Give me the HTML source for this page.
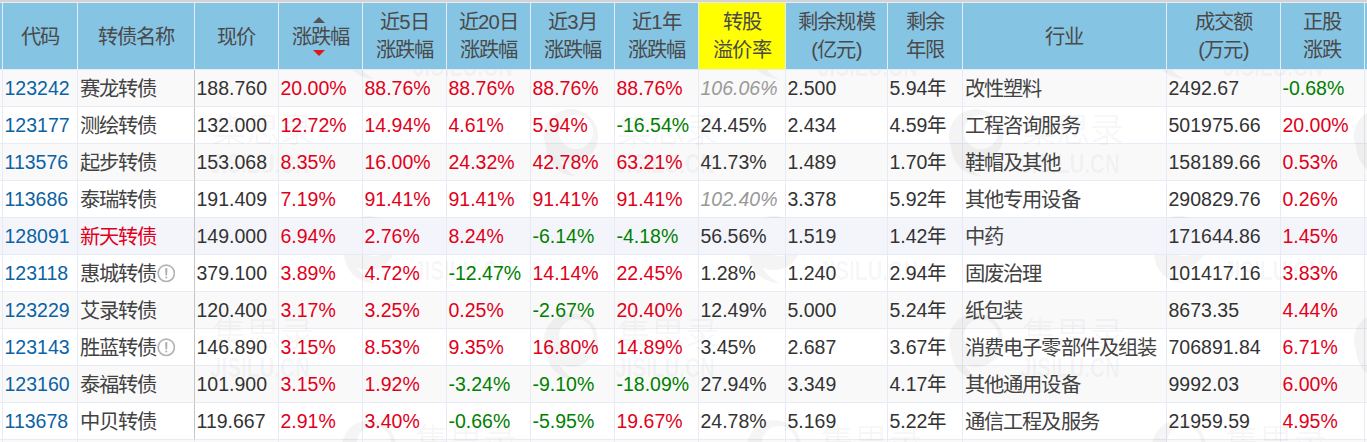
<!DOCTYPE html>
<html lang="zh-CN">
<head>
<meta charset="utf-8">
<title>可转债</title>
<style>
html,body{margin:0;padding:0;}
body{width:1367px;height:442px;overflow:hidden;background:#d3d3d3;font-family:"Liberation Sans",sans-serif;font-size:19.5px;color:#333;position:relative;}
table{position:absolute;left:0;top:2px;border-collapse:separate;border-spacing:0;table-layout:fixed;width:1380px;}
th,td{box-sizing:border-box;border-right:1px solid #e6ebf5;border-bottom:1px solid #e6ebf5;padding:0 1.5px;overflow:hidden;white-space:nowrap;}
th{font-size:20.3px;letter-spacing:-0.8px;height:68px;border-top:1px solid #e6ebf5;background:#86c4e4;font-weight:normal;text-align:center;line-height:26.5px;padding-top:2px;color:#4a4a4a;position:relative;}
th.y{background:#ffff00;}
th.t2{line-height:28px;padding-top:0.5px;}
td{height:37px;line-height:36px;text-align:left;background:#f9f9f9;}
tr:nth-child(even) td{background:#fff;}
tr.hv td{background:#f4f5fa;position:relative;z-index:3;}
td.nm{border-right-color:#c6c6c6;}
td.c{font-size:20.3px;letter-spacing:-0.8px;color:#424242;padding-top:2px;line-height:34px;}
a{color:#0b62a4;text-decoration:none;}
.r{color:#e1001a;}
.g{color:#008000;}
.i{color:#999;font-style:italic;}
.up,.dn{position:absolute;left:50%;margin-left:-7.5px;width:0;height:0;border-left:6px solid transparent;border-right:6px solid transparent;}
.up{top:14px;border-bottom:6px solid #555;}
.dn{top:47px;border-top:6px solid #dc1a1a;}
.ic{display:inline-block;width:18.6px;height:18.6px;vertical-align:-2px;margin-left:0.2px;}
.wm{position:absolute;left:195px;top:70px;width:1172px;height:372px;overflow:hidden;pointer-events:none;color:rgba(0,0,0,0.04);z-index:2;}
.wm div{position:absolute;width:180px;height:70px;}
.wm svg{position:absolute;left:0;top:0;width:56px;height:70px;}
.wm b{position:absolute;left:74px;top:6px;font-size:34px;line-height:34px;font-weight:normal;white-space:nowrap;}
.wm i{position:absolute;left:72px;top:43px;font-size:27px;line-height:28px;font-style:normal;font-weight:bold;white-space:nowrap;transform:scaleX(0.766);transform-origin:0 0;}
.wm b:before{content:"集思录";}
.wm i:before{content:"JISILU.CN";}
</style>
</head>
<body>
<table>
<colgroup>
<col style="width:3px"><col style="width:75px"><col style="width:117px"><col style="width:84px"><col style="width:84px"><col style="width:84px"><col style="width:84px"><col style="width:84px"><col style="width:84px"><col style="width:87px"><col style="width:102px"><col style="width:75px"><col style="width:204px"><col style="width:114px"><col style="width:84px"><col style="width:15px">
</colgroup>
<thead>
<tr>
<th class="e"></th>
<th>代码</th>
<th>转债名称</th>
<th>现价</th>
<th><span class="up"></span>涨跌幅<span class="dn"></span></th>
<th class="t2">近5日<br>涨跌幅</th>
<th class="t2">近20日<br>涨跌幅</th>
<th class="t2">近3月<br>涨跌幅</th>
<th class="t2">近1年<br>涨跌幅</th>
<th class="y t2">转股<br>溢价率</th>
<th class="t2">剩余规模<br>(亿元)</th>
<th class="t2">剩余<br>年限</th>
<th>行业</th>
<th class="t2">成交额<br>(万元)</th>
<th class="t2">正股<br>涨跌</th>
<th class="e"></th>
</tr>
</thead>
<tbody>
<tr>
<td class="e"></td>
<td><a>123242</a></td>
<td class="nm c"><span>赛龙转债</span></td>
<td>188.760</td>
<td class="r">20.00%</td>
<td class="r">88.76%</td>
<td class="r">88.76%</td>
<td class="r">88.76%</td>
<td class="r">88.76%</td>
<td class="i">106.06%</td>
<td>2.500</td>
<td>5.94年</td>
<td class="c">改性塑料</td>
<td>2492.67</td>
<td class="g">-0.68%</td>
<td class="e"></td>
</tr>
<tr>
<td class="e"></td>
<td><a>123177</a></td>
<td class="nm c"><span>测绘转债</span></td>
<td>132.000</td>
<td class="r">12.72%</td>
<td class="r">14.94%</td>
<td class="r">4.61%</td>
<td class="r">5.94%</td>
<td class="g">-16.54%</td>
<td>24.45%</td>
<td>2.434</td>
<td>4.59年</td>
<td class="c">工程咨询服务</td>
<td>501975.66</td>
<td class="r">20.00%</td>
<td class="e"></td>
</tr>
<tr>
<td class="e"></td>
<td><a>113576</a></td>
<td class="nm c"><span>起步转债</span></td>
<td>153.068</td>
<td class="r">8.35%</td>
<td class="r">16.00%</td>
<td class="r">24.32%</td>
<td class="r">42.78%</td>
<td class="r">63.21%</td>
<td>41.73%</td>
<td>1.489</td>
<td>1.70年</td>
<td class="c">鞋帽及其他</td>
<td>158189.66</td>
<td class="r">0.53%</td>
<td class="e"></td>
</tr>
<tr>
<td class="e"></td>
<td><a>113686</a></td>
<td class="nm c"><span>泰瑞转债</span></td>
<td>191.409</td>
<td class="r">7.19%</td>
<td class="r">91.41%</td>
<td class="r">91.41%</td>
<td class="r">91.41%</td>
<td class="r">91.41%</td>
<td class="i">102.40%</td>
<td>3.378</td>
<td>5.92年</td>
<td class="c">其他专用设备</td>
<td>290829.76</td>
<td class="r">0.26%</td>
<td class="e"></td>
</tr>
<tr class="hv">
<td class="e"></td>
<td><a>128091</a></td>
<td class="nm c"><span class="r">新天转债</span></td>
<td>149.000</td>
<td class="r">6.94%</td>
<td class="r">2.76%</td>
<td class="r">8.24%</td>
<td class="g">-6.14%</td>
<td class="g">-4.18%</td>
<td>56.56%</td>
<td>1.519</td>
<td>1.42年</td>
<td class="c">中药</td>
<td>171644.86</td>
<td class="r">1.45%</td>
<td class="e"></td>
</tr>
<tr>
<td class="e"></td>
<td><a>123118</a></td>
<td class="nm c"><span>惠城转债</span><svg class="ic" viewBox="0 0 18 18"><circle cx="9" cy="9" r="7.9" fill="none" stroke="#b3b3b3" stroke-width="1.6"/><path d="M7.9 4h2.2l-0.35 7.1h-1.5z" fill="#b0aaa0"/><rect x="8.15" y="12.3" width="1.7" height="1.6" fill="#b0aaa0"/></svg></td>
<td>379.100</td>
<td class="r">3.89%</td>
<td class="r">4.72%</td>
<td class="g">-12.47%</td>
<td class="r">14.14%</td>
<td class="r">22.45%</td>
<td>1.28%</td>
<td>1.240</td>
<td>2.94年</td>
<td class="c">固废治理</td>
<td>101417.16</td>
<td class="r">3.83%</td>
<td class="e"></td>
</tr>
<tr>
<td class="e"></td>
<td><a>123229</a></td>
<td class="nm c"><span>艾录转债</span></td>
<td>120.400</td>
<td class="r">3.17%</td>
<td class="r">3.25%</td>
<td class="r">0.25%</td>
<td class="g">-2.67%</td>
<td class="r">20.40%</td>
<td>12.49%</td>
<td>5.000</td>
<td>5.24年</td>
<td class="c">纸包装</td>
<td>8673.35</td>
<td class="r">4.44%</td>
<td class="e"></td>
</tr>
<tr>
<td class="e"></td>
<td><a>123143</a></td>
<td class="nm c"><span>胜蓝转债</span><svg class="ic" viewBox="0 0 18 18"><circle cx="9" cy="9" r="7.9" fill="none" stroke="#b3b3b3" stroke-width="1.6"/><path d="M7.9 4h2.2l-0.35 7.1h-1.5z" fill="#b0aaa0"/><rect x="8.15" y="12.3" width="1.7" height="1.6" fill="#b0aaa0"/></svg></td>
<td>146.890</td>
<td class="r">3.15%</td>
<td class="r">8.53%</td>
<td class="r">9.35%</td>
<td class="r">16.80%</td>
<td class="r">14.89%</td>
<td>3.45%</td>
<td>2.687</td>
<td>3.67年</td>
<td class="c">消费电子零部件及组装</td>
<td>706891.84</td>
<td class="r">6.71%</td>
<td class="e"></td>
</tr>
<tr>
<td class="e"></td>
<td><a>123160</a></td>
<td class="nm c"><span>泰福转债</span></td>
<td>101.900</td>
<td class="r">3.15%</td>
<td class="r">1.92%</td>
<td class="g">-3.24%</td>
<td class="g">-9.10%</td>
<td class="g">-18.09%</td>
<td>27.94%</td>
<td>3.349</td>
<td>4.17年</td>
<td class="c">其他通用设备</td>
<td>9992.03</td>
<td class="r">6.00%</td>
<td class="e"></td>
</tr>
<tr>
<td class="e"></td>
<td><a>113678</a></td>
<td class="nm c"><span>中贝转债</span></td>
<td>119.667</td>
<td class="r">2.91%</td>
<td class="r">3.40%</td>
<td class="g">-0.66%</td>
<td class="g">-5.95%</td>
<td class="r">19.67%</td>
<td>24.78%</td>
<td>5.169</td>
<td>5.22年</td>
<td class="c">通信工程及服务</td>
<td>21959.59</td>
<td class="r">4.95%</td>
<td class="e"></td>
</tr>
<tr>
<td class="e"></td>
<td class="e"></td>
<td class="e"></td>
<td class="e"></td>
<td class="e"></td>
<td class="e"></td>
<td class="e"></td>
<td class="e"></td>
<td class="e"></td>
<td class="e"></td>
<td class="e"></td>
<td class="e"></td>
<td class="e"></td>
<td class="e"></td>
<td class="e"></td>
<td class="e"></td>
</tr>
</tbody>
</table>
<div class="wm">
<div style="left:-57px;top:37px"><svg viewBox="0 0 56 70"><g opacity="0.04" fill="#000"><path fill-rule="evenodd" d="M28 2a27 27 0 1 0 0.01 0zM33 8a17 17 0 1 1-0.01 0z"/><path d="M3 40c2 17 12 28 30 29c-10-5-17-13-20-24z"/></g></svg><b></b><i></i></div>
<div style="left:-57px;top:241px"><svg viewBox="0 0 56 70"><g opacity="0.04" fill="#000"><path fill-rule="evenodd" d="M28 2a27 27 0 1 0 0.01 0zM33 8a17 17 0 1 1-0.01 0z"/><path d="M3 40c2 17 12 28 30 29c-10-5-17-13-20-24z"/></g></svg><b></b><i></i></div>
<div style="left:348px;top:37px"><svg viewBox="0 0 56 70"><g opacity="0.04" fill="#000"><path fill-rule="evenodd" d="M28 2a27 27 0 1 0 0.01 0zM33 8a17 17 0 1 1-0.01 0z"/><path d="M3 40c2 17 12 28 30 29c-10-5-17-13-20-24z"/></g></svg><b></b><i></i></div>
<div style="left:348px;top:241px"><svg viewBox="0 0 56 70"><g opacity="0.04" fill="#000"><path fill-rule="evenodd" d="M28 2a27 27 0 1 0 0.01 0zM33 8a17 17 0 1 1-0.01 0z"/><path d="M3 40c2 17 12 28 30 29c-10-5-17-13-20-24z"/></g></svg><b></b><i></i></div>
<div style="left:753px;top:37px"><svg viewBox="0 0 56 70"><g opacity="0.04" fill="#000"><path fill-rule="evenodd" d="M28 2a27 27 0 1 0 0.01 0zM33 8a17 17 0 1 1-0.01 0z"/><path d="M3 40c2 17 12 28 30 29c-10-5-17-13-20-24z"/></g></svg><b></b><i></i></div>
<div style="left:753px;top:241px"><svg viewBox="0 0 56 70"><g opacity="0.04" fill="#000"><path fill-rule="evenodd" d="M28 2a27 27 0 1 0 0.01 0zM33 8a17 17 0 1 1-0.01 0z"/><path d="M3 40c2 17 12 28 30 29c-10-5-17-13-20-24z"/></g></svg><b></b><i></i></div>
<div style="left:1158px;top:37px"><svg viewBox="0 0 56 70"><g opacity="0.04" fill="#000"><path fill-rule="evenodd" d="M28 2a27 27 0 1 0 0.01 0zM33 8a17 17 0 1 1-0.01 0z"/><path d="M3 40c2 17 12 28 30 29c-10-5-17-13-20-24z"/></g></svg><b></b><i></i></div>
<div style="left:1158px;top:241px"><svg viewBox="0 0 56 70"><g opacity="0.04" fill="#000"><path fill-rule="evenodd" d="M28 2a27 27 0 1 0 0.01 0zM33 8a17 17 0 1 1-0.01 0z"/><path d="M3 40c2 17 12 28 30 29c-10-5-17-13-20-24z"/></g></svg><b></b><i></i></div>
<div style="left:146px;top:-60px"><svg viewBox="0 0 56 70"><g opacity="0.04" fill="#000"><path fill-rule="evenodd" d="M28 2a27 27 0 1 0 0.01 0zM33 8a17 17 0 1 1-0.01 0z"/><path d="M3 40c2 17 12 28 30 29c-10-5-17-13-20-24z"/></g></svg><b></b><i></i></div>
<div style="left:146px;top:144px"><svg viewBox="0 0 56 70"><g opacity="0.04" fill="#000"><path fill-rule="evenodd" d="M28 2a27 27 0 1 0 0.01 0zM33 8a17 17 0 1 1-0.01 0z"/><path d="M3 40c2 17 12 28 30 29c-10-5-17-13-20-24z"/></g></svg><b></b><i></i></div>
<div style="left:146px;top:348px"><svg viewBox="0 0 56 70"><g opacity="0.04" fill="#000"><path fill-rule="evenodd" d="M28 2a27 27 0 1 0 0.01 0zM33 8a17 17 0 1 1-0.01 0z"/><path d="M3 40c2 17 12 28 30 29c-10-5-17-13-20-24z"/></g></svg><b></b><i></i></div>
<div style="left:551px;top:-60px"><svg viewBox="0 0 56 70"><g opacity="0.04" fill="#000"><path fill-rule="evenodd" d="M28 2a27 27 0 1 0 0.01 0zM33 8a17 17 0 1 1-0.01 0z"/><path d="M3 40c2 17 12 28 30 29c-10-5-17-13-20-24z"/></g></svg><b></b><i></i></div>
<div style="left:551px;top:144px"><svg viewBox="0 0 56 70"><g opacity="0.04" fill="#000"><path fill-rule="evenodd" d="M28 2a27 27 0 1 0 0.01 0zM33 8a17 17 0 1 1-0.01 0z"/><path d="M3 40c2 17 12 28 30 29c-10-5-17-13-20-24z"/></g></svg><b></b><i></i></div>
<div style="left:551px;top:348px"><svg viewBox="0 0 56 70"><g opacity="0.04" fill="#000"><path fill-rule="evenodd" d="M28 2a27 27 0 1 0 0.01 0zM33 8a17 17 0 1 1-0.01 0z"/><path d="M3 40c2 17 12 28 30 29c-10-5-17-13-20-24z"/></g></svg><b></b><i></i></div>
<div style="left:956px;top:-60px"><svg viewBox="0 0 56 70"><g opacity="0.04" fill="#000"><path fill-rule="evenodd" d="M28 2a27 27 0 1 0 0.01 0zM33 8a17 17 0 1 1-0.01 0z"/><path d="M3 40c2 17 12 28 30 29c-10-5-17-13-20-24z"/></g></svg><b></b><i></i></div>
<div style="left:956px;top:144px"><svg viewBox="0 0 56 70"><g opacity="0.04" fill="#000"><path fill-rule="evenodd" d="M28 2a27 27 0 1 0 0.01 0zM33 8a17 17 0 1 1-0.01 0z"/><path d="M3 40c2 17 12 28 30 29c-10-5-17-13-20-24z"/></g></svg><b></b><i></i></div>
<div style="left:956px;top:348px"><svg viewBox="0 0 56 70"><g opacity="0.04" fill="#000"><path fill-rule="evenodd" d="M28 2a27 27 0 1 0 0.01 0zM33 8a17 17 0 1 1-0.01 0z"/><path d="M3 40c2 17 12 28 30 29c-10-5-17-13-20-24z"/></g></svg><b></b><i></i></div>
</div>
</body>
</html>
